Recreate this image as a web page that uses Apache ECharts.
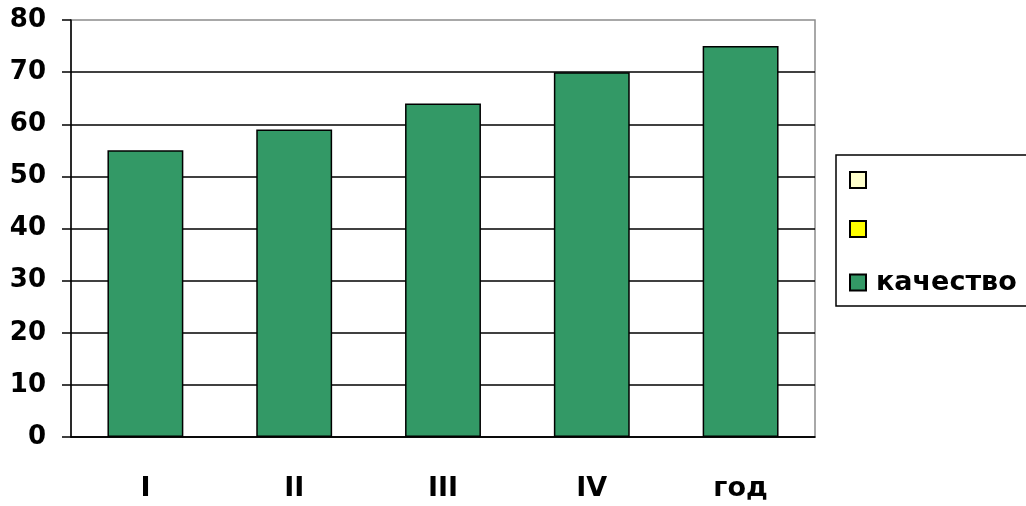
<!DOCTYPE html>
<html><head><meta charset="utf-8">
<script src="https://cdn.jsdelivr.net/npm/echarts@6/dist/echarts.min.js"></script>
<style>html,body{margin:0;padding:0;background:#fff}#c{width:1026px;height:506px}</style>
</head><body><div id="c"></div>
<script>
const categories = ['I', 'II', 'III', 'IV', 'год'];
const kachestvo = [55, 59, 64, 70, 75];
const seriesNames = ['s1', 's2', 'качество'];
const yTicks = {min: 0, max: 80, interval: 10};

const chart = echarts.init(document.getElementById('c'), null, {renderer: 'canvas'});
const font = '"DejaVu Sans", Verdana, sans-serif';
chart.setOption({
  animation: false,
  backgroundColor: '#fff',
  grid: {left: 71, right: 211, top: 20, bottom: 69, show: true, borderColor: '#8c8c8c', borderWidth: 1.5},
  legend: {
    orient: 'vertical', left: 836, top: 155,
    padding: [16, 200, 10, 13], itemGap: 31,
    borderColor: '#000', borderWidth: 1.5,
    icon: 'rect', itemWidth: 16, itemHeight: 16,
    data: seriesNames,
    formatter: n => n === 'качество' ? n : '',
    textStyle: {fontFamily: font, fontWeight: 'bold', fontSize: 27, lineHeight: 20, color: '#000', padding: [0,0,0,5]}
  },
  xAxis: {
    type: 'category', data: categories,
    axisLine: {lineStyle: {color: '#000', width: 1.5}},
    axisTick: {length: 9, lineStyle: {color: '#000', width: 1.5}},
    axisLabel: {margin: 38, fontFamily: font, fontWeight: 'bold', fontSize: 27, color: '#000'}
  },
  yAxis: {
    type: 'value', min: yTicks.min, max: yTicks.max, interval: yTicks.interval,
    axisLine: {show: true, lineStyle: {color: '#000', width: 1.5}},
    axisTick: {show: true, length: 9, lineStyle: {color: '#000', width: 1.5}},
    splitLine: {showMaxLine: false, lineStyle: {color: '#000', width: 1.5}},
    axisLabel: {margin: 25, fontFamily: font, fontWeight: 'bold', fontSize: 26, color: '#000'}
  },
  series: [
    {name: seriesNames[0], type: 'bar', stack: 'a', data: [], itemStyle: {color: '#FFFFCC', borderColor: '#000', borderWidth: 1.5}},
    {name: seriesNames[1], type: 'bar', stack: 'a', data: [], itemStyle: {color: '#FFFF00', borderColor: '#000', borderWidth: 1.5}},
    {name: seriesNames[2], type: 'bar', stack: 'a', data: kachestvo, barWidth: '51%',
     itemStyle: {color: '#339966', borderColor: '#000', borderWidth: 1.5}}
  ]
});
</script></body></html>
